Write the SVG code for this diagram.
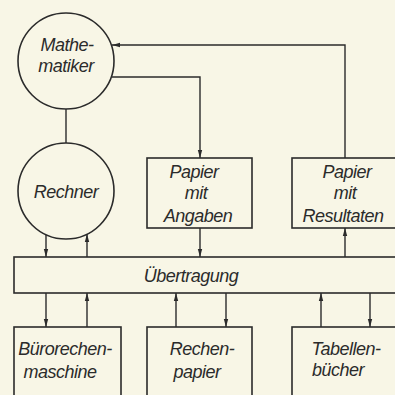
<svg xmlns="http://www.w3.org/2000/svg" width="395" height="395" viewBox="0 0 395 395">
<defs>
<style>
.n{fill:none;stroke:#2b2b2b;stroke-width:1.6}
.c{fill:none;stroke:#2b2b2b;stroke-width:1.4}
text{font-family:"Liberation Sans",Arial,sans-serif;font-style:italic;font-size:18px;letter-spacing:-0.5px;fill:#2b2b2b;text-anchor:middle}
</style>
<marker id="a" markerUnits="userSpaceOnUse" markerWidth="8" markerHeight="6" refX="8" refY="3" orient="auto">
<path d="M0,0.8 L8,3 L0,5.2 z" fill="#2b2b2b"/>
</marker>
</defs>
<rect width="395" height="395" fill="#f8f6e6"/>
<g id="mathematiker">
<circle class="n" cx="66" cy="61" r="48"/>
<text x="67" y="51">Mathe-</text>
<text x="66" y="72">matiker</text>
</g>
<g id="rechner">
<circle class="n" cx="66" cy="191" r="48"/>
<text x="66" y="198">Rechner</text>
</g>
<g id="angaben">
<rect class="n" x="147" y="158" width="105" height="70"/>
<text x="194" y="178">Papier</text>
<text x="196" y="199">mit</text>
<text x="198" y="222">Angaben</text>
</g>
<g id="resultaten">
<rect class="n" x="292" y="158" width="130" height="70"/>
<text x="347" y="178">Papier</text>
<text x="345" y="199">mit</text>
<text x="343" y="222">Resultaten</text>
</g>
<g id="uebertragung">
<rect class="n" x="14" y="257" width="420" height="36"/>
<text x="191" y="282">Übertragung</text>
</g>
<g id="buerorechenmaschine">
<rect class="n" x="14" y="327" width="107" height="90"/>
<text x="65" y="355">Bürorechen-</text>
<text x="60" y="378">maschine</text>
</g>
<g id="rechenpapier">
<rect class="n" x="147" y="327" width="105" height="90"/>
<text x="202" y="355">Rechen-</text>
<text x="197" y="378">papier</text>
</g>
<g id="tabellenbuecher">
<rect class="n" x="292" y="327" width="130" height="90"/>
<text x="346" y="355">Tabellen-</text>
<text x="338" y="376">bücher</text>
</g>
<g id="connectors">
<path class="c" d="M66,109 V143"/>
<path class="c" d="M345,158 V45 H112" marker-end="url(#a)"/>
<path class="c" d="M112,77 H200 V158" marker-end="url(#a)"/>
<path class="c" d="M46,235 V257" marker-end="url(#a)"/>
<path class="c" d="M87,257 V234" marker-end="url(#a)"/>
<path class="c" d="M200,228 V257" marker-end="url(#a)"/>
<path class="c" d="M345,257 V228" marker-end="url(#a)"/>
<path class="c" d="M46,293 V327" marker-end="url(#a)"/>
<path class="c" d="M87,327 V293" marker-end="url(#a)"/>
<path class="c" d="M176,327 V293" marker-end="url(#a)"/>
<path class="c" d="M226,293 V327" marker-end="url(#a)"/>
<path class="c" d="M321,327 V293" marker-end="url(#a)"/>
<path class="c" d="M370,293 V327" marker-end="url(#a)"/>
</g>
</svg>
